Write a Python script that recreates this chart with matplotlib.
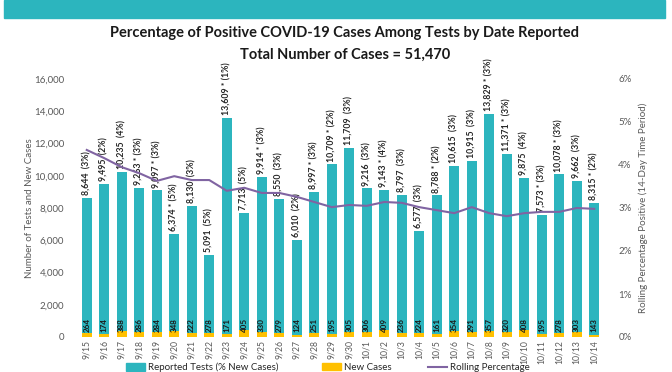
import numpy as np
import matplotlib
matplotlib.use('Agg')
import matplotlib.pyplot as plt
from matplotlib.patches import Patch, Rectangle
from matplotlib.lines import Line2D

# Data
dates = ['9/15', '9/16', '9/17', '9/18', '9/19', '9/20', '9/21', '9/22', '9/23', '9/24',
         '9/25', '9/26', '9/27', '9/28', '9/29', '9/30', '10/1', '10/2', '10/3', '10/4',
         '10/5', '10/6', '10/7', '10/8', '10/9', '10/10', '10/11', '10/12', '10/13', '10/14']
reported_tests = [8644, 9495, 10235, 9263, 9097, 6374, 8130, 5091, 13609, 7713,
                  9914, 8550, 6010, 8997, 10709, 11709, 9216, 9143, 8797, 6577,
                  8788, 10615, 10915, 13829, 11371, 9875, 7573, 10078, 9662, 8315]
new_cases = [264, 174, 388, 286, 284, 348, 222, 278, 171, 405,
             330, 279, 124, 251, 195, 305, 306, 409, 236, 224,
             161, 354, 291, 357, 320, 408, 195, 278, 303, 143]
starred = [False, False, False, True, True, True, False, False, True, False,
           True, False, False, True, True, False, False, True, False, False,
           True, False, False, True, True, False, True, True, False, True]
pct_new = [3, 2, 4, 3, 3, 5, 3, 5, 1, 5,
           3, 3, 2, 3, 2, 3, 3, 4, 3, 3,
           2, 3, 3, 3, 3, 4, 3, 3, 3, 2]
rolling_pct = [4.35, 4.16, 3.95, 3.81, 3.63, 3.74, 3.65, 3.65, 3.40, 3.47,
               3.35, 3.35, 3.26, 3.14, 3.02, 3.07, 3.05, 3.14, 3.12, 3.02,
               2.95, 2.88, 3.02, 2.88, 2.81, 2.88, 2.91, 2.91, 3.00, 2.98]

TEAL = '#2cb5be'
ORANGE = '#ffc000'
PURPLE = '#8064a2'
GRAY = '#595959'

plt.rcParams['font.family'] = ['Lato', 'DejaVu Sans']

fig = plt.figure(figsize=(6.72, 3.72), dpi=100)

# teal banner at the top
fig.patches.append(Rectangle((4 / 672, 1 - 18 / 372), 661 / 672, 18 / 372,
                             transform=fig.transFigure, color=TEAL, zorder=0))

fig.text(345 / 672, 1 - 33 / 372, 'Percentage of Positive COVID-19 Cases Among Tests by Date Reported',
         ha='center', va='center', fontsize=10.5, fontweight='bold', color='#1a1a1a')
fig.text(345 / 672, 1 - 55 / 372, 'Total Number of Cases = 51,470',
         ha='center', va='center', fontsize=10.5, fontweight='bold', color='#1a1a1a')

ax = fig.add_axes([78 / 672, 1 - 337 / 372, 525 / 672, 258 / 372])
x = np.arange(len(dates))

ax.bar(x, reported_tests, width=0.58, color=TEAL, zorder=2)
ax.bar(x, new_cases, width=0.58, color=ORANGE, zorder=3)

for i in range(len(dates)):
    star = ' * ' if starred[i] else '  '
    label = f'{reported_tests[i]:,}{star}({pct_new[i]}%)'
    ax.annotate(label, (x[i], reported_tests[i]), xytext=(0, 2), textcoords='offset points',
                rotation=90, ha='center', va='bottom', fontsize=6.3, fontweight='bold',
                color='#262626', zorder=5)
    ax.annotate(str(new_cases[i]), (x[i], 0), xytext=(0, 3.5), textcoords='offset points',
                rotation=90, ha='center', va='bottom', fontsize=5.8, fontweight='bold',
                color='#1a1a1a', zorder=5)

ax.set_xlim(-0.5, len(dates) - 0.5)
ax.set_ylim(0, 16000)
ax.set_yticks(np.arange(0, 16001, 2000))
ax.set_yticklabels([f'{v:,}' for v in range(0, 16001, 2000)])
ax.set_xticks(x)
ax.set_xticklabels(dates, rotation=90)
ax.tick_params(axis='both', length=0, colors=GRAY)
ax.tick_params(axis='x', pad=2, labelsize=6.2)
ax.tick_params(axis='y', labelsize=7, pad=10)
for s in ax.spines.values():
    s.set_visible(False)
ax.set_ylabel('Number of Tests and New Cases', fontsize=7, color=GRAY, labelpad=0)

ax2 = ax.twinx()
ax2.plot(x, rolling_pct, color=PURPLE, linewidth=1.5, zorder=4)
ax2.set_ylim(0, 6)
ax2.set_yticks(range(0, 7))
ax2.set_yticklabels([f'{v}%' for v in range(0, 7)])
ax2.tick_params(axis='y', length=0, colors=GRAY, labelsize=7, pad=11)
for s in ax2.spines.values():
    s.set_visible(False)
ax2.set_ylabel('Rolling Percentage Positive (14-Day Time Period)', fontsize=7, color=GRAY, labelpad=5)

# legend entries placed one by one, as spaced in the reference
legend_items = [
    (Patch(color=TEAL), 'Reported Tests (% New Cases)', 126),
    (Patch(color=ORANGE), 'New Cases', 322),
    (Line2D([0], [0], color=PURPLE, linewidth=1.5), 'Rolling Percentage', 428),
]
for handle, text, xpos in legend_items:
    fig.legend([handle], [text], loc='center left', bbox_to_anchor=(xpos / 672, 1 - 367.5 / 372),
               frameon=False, fontsize=7, handlelength=2.0, handleheight=0.8,
               handletextpad=0.3, borderpad=0, borderaxespad=0, labelcolor='#262626')

fig.savefig('out.png', dpi=100)
